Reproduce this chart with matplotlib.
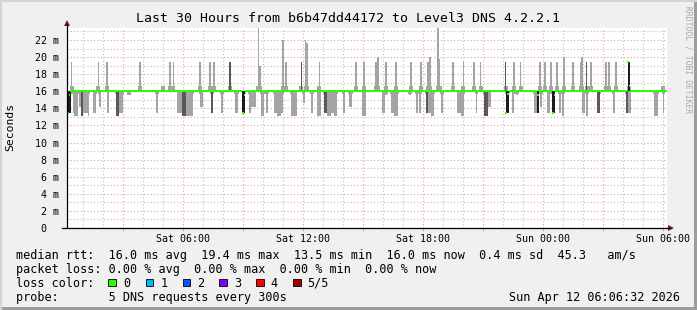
import matplotlib
matplotlib.use('Agg')
import matplotlib.pyplot as plt
from matplotlib.ticker import MultipleLocator, FuncFormatter
from matplotlib.patches import Rectangle, Polygon
from matplotlib.lines import Line2D

# ---------------- data ----------------
START_H, END_H = 0.2, 30.2          # hours since Sat 00:00
STEP_H = 5 / 60                     # 300 s probe step
MEDIAN_NORMAL = 16.0                # ms
UP_SHOULDER = 16.6                  # ms, light smoke just above median
DOWN_SHOULDER = 15.65               # ms, light smoke just below median

median_change_hours = [0.25, 0.33, 8.97, 9.05, 22.18, 22.27, 23.70, 23.78,
                       24.47, 24.55, 28.27, 28.35]
median_change_values = [13.5, 15.6, 13.5, 15.6, 13.5, 15.7, 13.5, 15.6,
                        13.5, 15.6, 19.4, 16.6]

up_hours = [0.43, 1.77, 2.20, 3.85, 5.02, 5.35, 5.52, 6.85, 7.35, 7.55,
            8.35, 9.77, 9.85, 10.99, 11.15, 11.92, 12.13, 12.21, 12.82, 14.65,
            15.05, 15.65, 15.75, 16.15, 16.65, 17.40, 17.90, 18.25, 18.35, 18.75,
            18.83, 19.50, 20.02, 20.55, 20.88, 22.13, 22.55, 22.88, 23.85, 24.10,
            24.40, 24.70, 25.05, 25.50, 25.88, 25.96, 26.18, 26.40, 27.15, 27.30,
            27.65, 28.30, 30.02]
up_tops = [19.4, 19.4, 19.4, 19.4, 16.6, 19.4, 19.4, 19.4, 19.4, 19.4,
           19.4, 23.4, 18.9, 22.0, 19.4, 19.4, 22.0, 21.6, 19.4, 19.4,
           19.4, 19.4, 20.0, 19.4, 19.4, 19.4, 19.4, 19.4, 20.0, 23.4,
           19.8, 19.4, 19.4, 19.4, 19.4, 19.4, 19.4, 19.4, 19.4, 19.4,
           19.4, 19.4, 20.0, 19.4, 19.4, 20.0, 19.4, 19.4, 19.4, 19.4,
           19.4, 19.4, 16.6]
up_shades = ['l', 'l', 'l', 'l', 'l', 'l', 'l', 'l', 'l', 'l',
             'd', 'l', 'l', 'l', 'l', 'd', 'l', 'l', 'l', 'l',
             'l', 'l', 'l', 'l', 'l', 'l', 'l', 'l', 'l', 'l',
             'l', 'l', 'l', 'l', 'l', 'd', 'l', 'l', 'l', 'l',
             'l', 'l', 'l', 'l', 'l', 'l', 'd', 'l', 'l', 'l',
             'l', 'k', 'l']

down_start = [0.48, 0.55, 0.78, 0.92, 1.02, 1.25, 1.52, 1.78, 2.22, 2.63,
              2.80, 3.22, 4.63, 5.72, 5.97, 6.13, 6.85, 7.38, 7.88, 8.58,
              9.30, 9.42, 9.88, 10.13, 10.55, 10.72, 10.88, 11.38, 12.00, 12.38,
              12.72, 13.05, 13.22, 13.38, 13.55, 14.00, 14.30, 14.97, 15.97, 16.08,
              16.38, 16.55, 17.30, 17.63, 17.80, 18.13, 18.27, 18.38, 18.88, 19.72,
              19.92, 20.63, 21.05, 21.25, 22.47, 22.63, 23.55, 23.85, 24.22, 24.80,
              24.97, 25.97, 26.15, 26.72, 27.48, 28.15, 28.25, 29.55, 29.98,
              0.25, 8.97, 22.15, 23.68, 24.45]
down_end = [0.55, 0.75, 0.88, 1.02, 1.25, 1.32, 1.65, 1.88, 2.28, 2.80,
            3.02, 3.38, 4.77, 5.97, 6.13, 6.52, 6.98, 7.52, 8.02, 8.75,
            9.42, 9.63, 10.05, 10.25, 10.72, 10.88, 11.00, 11.68, 12.08, 12.52,
            12.88, 13.22, 13.38, 13.55, 13.72, 14.08, 14.47, 15.13, 16.08, 16.22,
            16.55, 16.75, 17.42, 17.75, 17.92, 18.27, 18.38, 18.55, 19.02, 19.92,
            20.05, 20.72, 21.25, 21.38, 22.55, 22.75, 23.68, 23.95, 24.35, 24.92,
            25.05, 26.08, 26.25, 26.85, 27.58, 28.25, 28.38, 29.75, 30.05,
            0.40, 9.10, 22.30, 23.82, 24.58]
down_bottom = [13.5, 13.1, 14.1, 13.1, 13.5, 13.1, 13.5, 14.1, 13.5, 13.1,
               13.5, 15.6, 13.5, 13.5, 13.1, 13.1, 14.1, 13.5, 13.5, 13.5,
               13.5, 14.1, 13.1, 13.5, 13.5, 13.1, 13.5, 13.1, 14.6, 13.5,
               13.1, 13.5, 13.1, 13.5, 13.1, 13.5, 14.1, 13.1, 13.5, 15.6,
               13.5, 13.1, 15.6, 13.5, 13.5, 13.5, 13.5, 13.1, 13.5, 13.5,
               13.1, 13.5, 13.1, 14.1, 13.5, 15.6, 13.5, 14.1, 13.5, 13.5,
               13.1, 13.5, 13.1, 13.5, 13.5, 13.5, 13.5, 13.1, 13.5,
               13.4, 13.4, 13.4, 13.4, 13.4]
down_shades = ['l', 'l', 'l', 'd', 'l', 'l', 'l', 'l', 'l', 'd',
               'l', 'l', 'l', 'l', 'd', 'l', 'l', 'd', 'l', 'l',
               'l', 'l', 'l', 'l', 'l', 'l', 'l', 'l', 'l', 'l',
               'l', 'd', 'l', 'l', 'l', 'l', 'l', 'l', 'l', 'l',
               'l', 'l', 'l', 'l', 'l', 'd', 'l', 'l', 'l', 'l',
               'l', 'l', 'd', 'l', 'l', 'l', 'l', 'l', 'l', 'l',
               'l', 'l', 'l', 'd', 'l', 'd', 'l', 'l', 'l',
               'k', 'k', 'k', 'k', 'k']

x_tick_hours = [6, 12, 18, 24, 30]
x_tick_labels = ['Sat 06:00', 'Sat 12:00', 'Sat 18:00', 'Sun 00:00', 'Sun 06:00']

title = 'Last 30 Hours from b6b47dd44172 to Level3 DNS 4.2.2.1'
legend_rtt = 'median rtt:  16.0 ms avg  19.4 ms max  13.5 ms min  16.0 ms now  0.4 ms sd  45.3   am/s'
legend_loss = 'packet loss: 0.00 % avg  0.00 % max  0.00 % min  0.00 % now'
legend_color_title = 'loss color:'
loss_labels = ['0', '1', '2', '3', '4', '5/5']
loss_colors = ['#26ff00', '#00b8ff', '#0059ff', '#7e00ff', '#ff0000', '#a00000']
legend_probe = 'probe:       5 DNS requests every 300s'
timestamp = 'Sun Apr 12 06:06:32 2026'

# ---------------- drawing ----------------
W, H = 697, 310
MONO = 'DejaVu Sans Mono'
plt.rcParams['font.family'] = [MONO, 'DejaVu Sans']

fig = plt.figure(figsize=(W / 100, H / 100), dpi=100)
fig.patch.set_facecolor('#f0f0f0')


def P(x, y):
    return (x / W, 1 - y / H)


ax = fig.add_axes([67 / W, 1 - 228 / H, 600 / W, 200 / H])
ax.set_facecolor('white')
ax.set_xlim(START_H, END_H)
ax.set_ylim(0, 23.4)

shade_colors = {'l': '#a4a4a4', 'd': '#595959', 'k': '#1c1c1c'}
shade_z = {'l': 3, 'd': 4, 'k': 5}

# shoulders (light smoke close to the median)
for h, top in zip(up_hours, up_tops):
    ax.bar(h, UP_SHOULDER - MEDIAN_NORMAL, bottom=MEDIAN_NORMAL, width=2.5 * STEP_H,
           color=shade_colors['l'], lw=0, zorder=2)
for h0, h1 in zip(down_start, down_end):
    ax.bar(h0 - 0.5 * STEP_H, MEDIAN_NORMAL - DOWN_SHOULDER, bottom=DOWN_SHOULDER,
           width=(h1 - h0) + STEP_H, align='edge',
           color=shade_colors['l'], lw=0, zorder=2)

# upper smoke
for h, top, s in zip(up_hours, up_tops, up_shades):
    ax.bar(h, top - MEDIAN_NORMAL, bottom=MEDIAN_NORMAL, width=STEP_H,
           color=shade_colors[s], lw=0, zorder=shade_z[s])
# lower smoke
for h0, h1, b, s in zip(down_start, down_end, down_bottom, down_shades):
    ax.bar(h0, MEDIAN_NORMAL - b, bottom=b, width=h1 - h0, align='edge',
           color=shade_colors[s], lw=0, zorder=shade_z[s])

# median (loss colour 0)
n_steps = int(round((END_H - START_H) / STEP_H))
median = [MEDIAN_NORMAL] * n_steps
for h, v in zip(median_change_hours, median_change_values):
    median[int((h - START_H) / STEP_H)] = v
centers = [START_H + (i + 0.5) * STEP_H for i in range(n_steps)]
ax.bar(centers, 0.26, bottom=[m - 0.13 for m in median], width=STEP_H * 1.05,
       color=loss_colors[0], lw=0, zorder=6)

# grid
ax.set_axisbelow(True)
ax.xaxis.set_major_locator(MultipleLocator(3))
ax.xaxis.set_minor_locator(MultipleLocator(1))
ax.yaxis.set_major_locator(MultipleLocator(2))
ax.yaxis.set_minor_locator(MultipleLocator(1))
ax.grid(which='major', color='#e3a0a0', linestyle=(0, (1, 2)), lw=0.8)
ax.grid(which='minor', color='#bdbdbd', linestyle=(0, (1, 2)), lw=0.8)

lab = dict(zip(x_tick_hours, x_tick_labels))
ax.xaxis.set_major_formatter(FuncFormatter(lambda v, p: lab.get(int(round(v)), '')))
ax.yaxis.set_major_formatter(FuncFormatter(
    lambda v, p: f'{v:.0f} m' if v > 0 else '0\u00a0\u00a0'))
ax.tick_params(axis='x', which='major', length=2, color='#e3a0a0', pad=2,
               labelsize=7.2)
ax.tick_params(axis='x', which='minor', length=0)
ax.tick_params(axis='y', which='both', length=0, pad=6, labelsize=7.2)
for sp in ax.spines.values():
    sp.set_visible(False)

# axis lines and arrows
fig.add_artist(Line2D([P(67, 228)[0], P(67, 24)[0]], [P(67, 228)[1], P(67, 24)[1]],
                      transform=fig.transFigure, color='black', lw=0.9))
fig.add_artist(Line2D([P(62, 228)[0], P(670, 228)[0]], [P(62, 228)[1], P(670, 228)[1]],
                      transform=fig.transFigure, color='black', lw=0.9))
fig.add_artist(Polygon([P(64, 26), P(70, 26), P(67, 20)], closed=True,
                       transform=fig.transFigure, color='#7f1a1a', lw=0))
fig.add_artist(Polygon([P(668, 225), P(668, 231), P(674, 228)], closed=True,
                       transform=fig.transFigure, color='#7f1a1a', lw=0))

# texts
fig.text(*P(348, 19), title, ha='center', va='center', size=9.5)
fig.text(*P(10, 127), 'Seconds', ha='center', va='center', rotation=90, size=8.2)
fig.text(*P(688, 60), 'RRDTOOL / TOBI OETIKER', ha='center', va='center',
         rotation=270, size=5.8, color='#a8a8a8')

LS = 8.5
fig.text(*P(16, 254), legend_rtt, ha='left', va='center_baseline', size=LS)
fig.text(*P(16, 268), legend_loss, ha='left', va='center_baseline', size=LS)
fig.text(*P(16, 282), legend_color_title, ha='left', va='center_baseline', size=LS)
box_x = [108.3, 145.7, 182.7, 219.3, 256.3, 293.3]
lab_x = [123.3, 160.7, 197.3, 234.0, 270.7, 307.3]
for bx, lx, c, t in zip(box_x, lab_x, loss_colors, loss_labels):
    x0, y0 = P(bx, 286)
    fig.add_artist(Rectangle((x0, y0), 7.5 / W, 7.5 / H, transform=fig.transFigure,
                             facecolor=c, edgecolor='black', lw=0.6))
    fig.text(*P(lx, 282), t, ha='left', va='center_baseline', size=LS)
fig.text(*P(16, 296), legend_probe, ha='left', va='center_baseline', size=LS)
fig.text(*P(680, 296), timestamp, ha='right', va='center_baseline', size=LS)

# canvas shading (rrdtool style)
fig.add_artist(Rectangle((0, 0), 1, 3 / H, transform=fig.transFigure,
                         color='#9c9c9c', lw=0))
fig.add_artist(Rectangle((1 - 3 / W, 0), 3 / W, 1, transform=fig.transFigure,
                         color='#9c9c9c', lw=0))
fig.add_artist(Rectangle((0, 0), 2 / W, 1, transform=fig.transFigure,
                         color='#d4d4d4', lw=0))
fig.add_artist(Rectangle((0, 1 - 2 / H), 1, 2 / H, transform=fig.transFigure,
                         color='#d4d4d4', lw=0))

fig.savefig('out.png', dpi=100, facecolor=fig.get_facecolor())
